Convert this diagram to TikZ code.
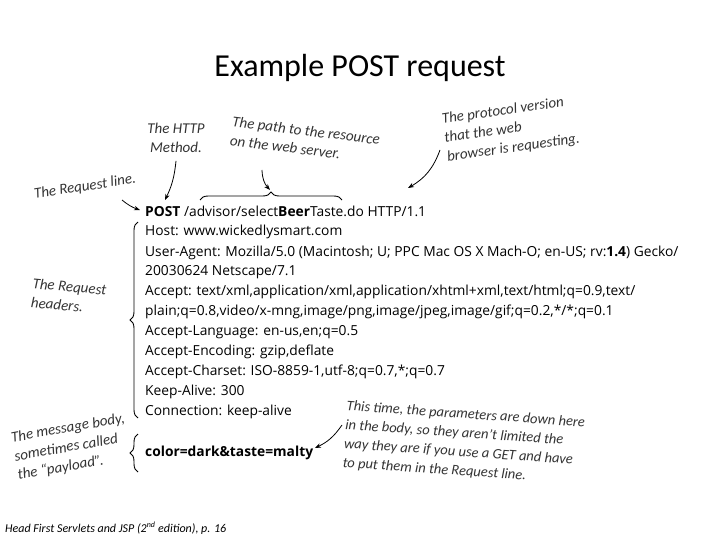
\documentclass[tikz,border=0pt]{standalone}
\usepackage{fontspec}
\setmainfont{Carlito}
\newfontfamily\req{Open Sans}
\usetikzlibrary{decorations.pathreplacing,arrows.meta}
\begin{document}
\begin{tikzpicture}[x=1pt,y=-1pt,
  ln/.style={anchor=base west,inner sep=0,font=\req\fontsize{13.8}{15}\selectfont},
  note/.style={inner sep=0,font=\fontsize{15}{19}\selectfont\itshape,text=black!80,align=left},
  arr/.style={-{Stealth[length=6pt]},line width=0.8pt},
  br/.style={decorate,decoration={brace,amplitude=8pt},line width=0.9pt}]
\useasboundingbox (0,0) rectangle (720,540);
\node[font=\fontsize{32}{36}\selectfont] (title) at (360,68) {Example POST request};
\node[ln] (l1) at (145,216) {\textbf{POST} /advisor/select\textbf{Beer}Taste.do HTTP/1.1};
\node[ln] (l2) at (145,236) {Host: www.wickedlysmart.com};
\node[ln] (l3) at (145,256) {User-Agent: Mozilla/5.0 (Macintosh; U; PPC Mac OS X Mach-O; en-US; rv:\textbf{1.4}) Gecko/};
\node[ln] (l4) at (145,275) {20030624 Netscape/7.1};
\node[ln] (l5) at (145,295) {Accept: text/xml,application/xml,application/xhtml+xml,text/html;q=0.9,text/};
\node[ln] (l6) at (145,315) {plain;q=0.8,video/x-mng,image/png,image/jpeg,image/gif;q=0.2,*/*;q=0.1};
\node[ln] (l7) at (145,335) {Accept-Language: en-us,en;q=0.5};
\node[ln] (l8) at (145,355) {Accept-Encoding: gzip,deflate};
\node[ln] (l9) at (145,375) {Accept-Charset: ISO-8859-1,utf-8;q=0.7,*;q=0.7};
\node[ln] (l10) at (145,395) {Keep-Alive: 300};
\node[ln] (l11) at (145,415) {Connection: keep-alive};
\node[ln] (body) at (145,456) {\textbf{color=dark\&taste=malty}};
% braces
\draw[br] (138,418) -- (138,222);
\draw[br] (138,472) -- (138,434);
\draw[br] (200,200) -- (342,200);
% notes
\node[note,align=center] (m) at (176,138) {The HTTP\\Method.};
\node[note,rotate=-7,anchor=north west] (p) at (233,116) {The path to the resource\\on the web server.};
\node[note,rotate=8,anchor=south west] (pr) at (448,164) {The protocol version\\that the web\\browser is requesting.};
\node[note,rotate=9] (rl) at (85,187) {The Request line.};
\node[note,rotate=-5,anchor=north west] (rh) at (33,278) {The Request\\headers.};
\node[note,rotate=10,anchor=north west] (mb) at (10,432) {The message body,\\sometimes called\\the ``payload''.};
\node[note,rotate=-4,anchor=north west,font=\fontsize{14.5}{19}\selectfont\itshape] (tt) at (347,400) {This time, the parameters are down here\\in the body, so they aren't limited the\\way they are if you use a GET and have\\to put them in the Request line.};
\node[font=\fontsize{12}{14}\selectfont\itshape,anchor=base west,inner sep=0] (foot) at (5,532) {Head First Servlets and JSP (2\textsuperscript{nd} edition), p. 16};
% arrows
\coordinate (a1) at (140,210);
\coordinate (a2) at (165,200);
\coordinate (a3) at (270,190);
\coordinate (a4) at (408,188);
\coordinate (a5) at (315,448);
\draw[arr] (122,200) to[bend right=10] (a1);
\draw[arr] (m.south) ++(0,8) to[bend left=10] (a2);
\draw[arr] (262,170) to[bend right=20] (a3);
\draw[arr] (440,150) to[bend left=20] (a4);
\draw[arr] (342,425) to[bend left=15] (a5);
\end{tikzpicture}
\end{document}
